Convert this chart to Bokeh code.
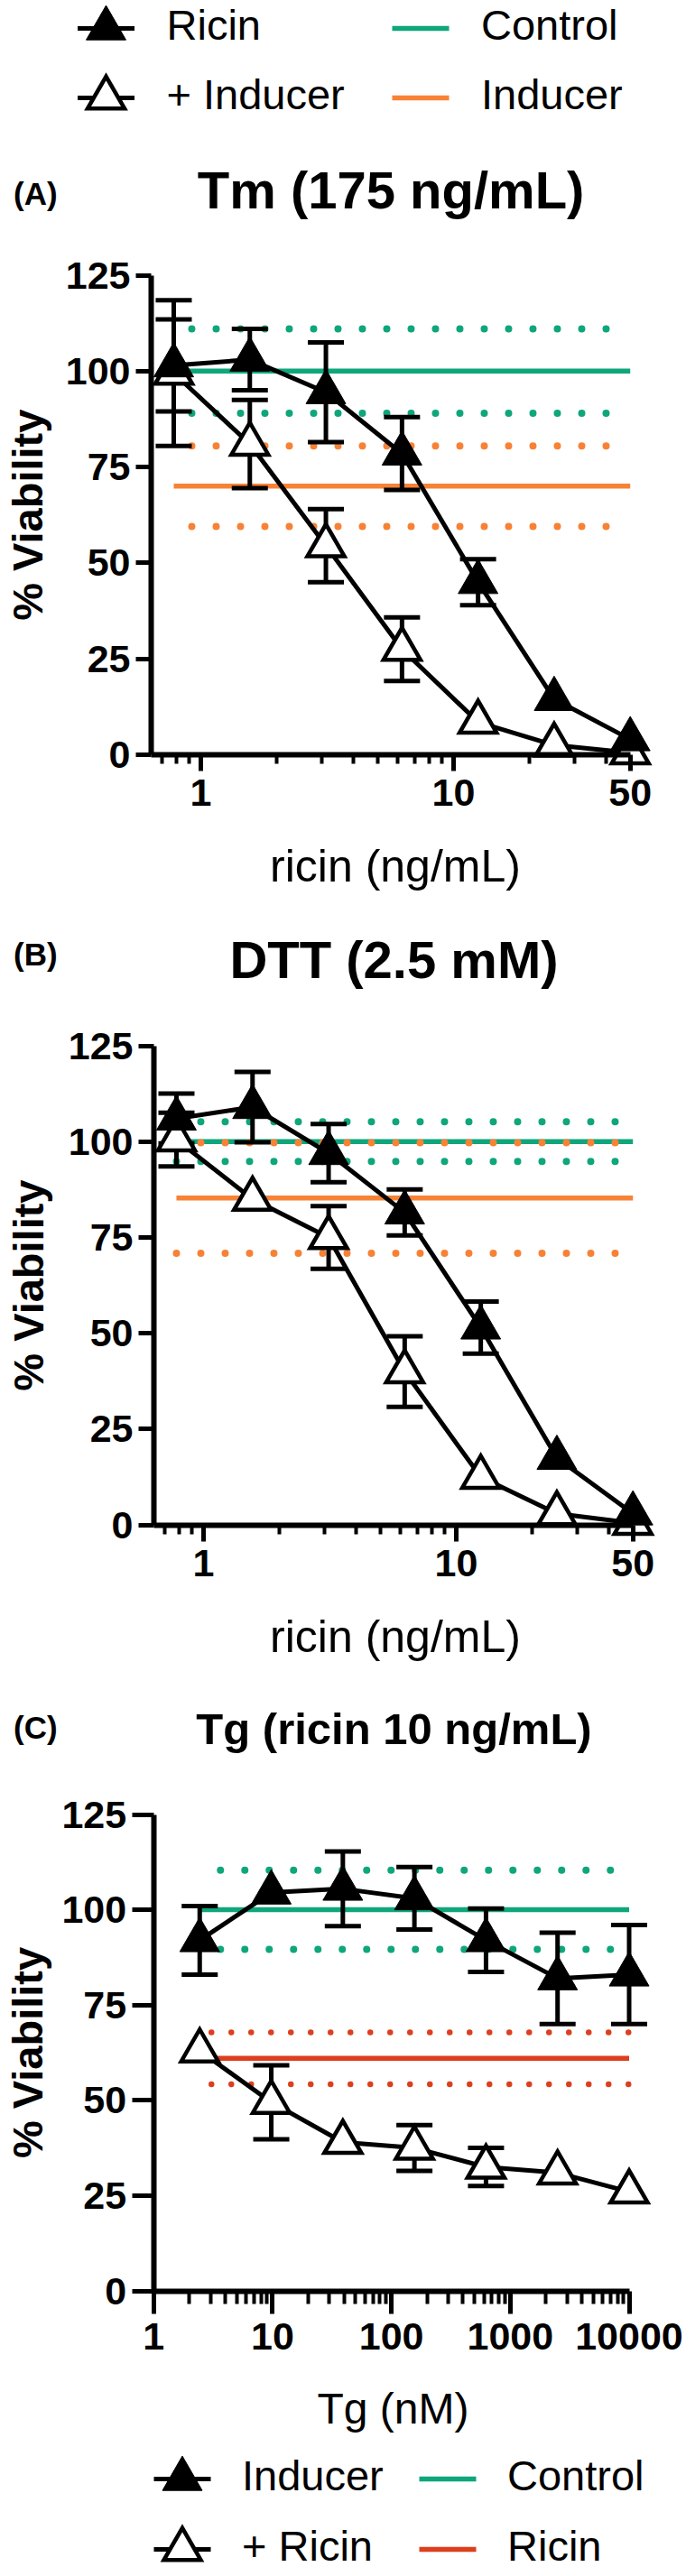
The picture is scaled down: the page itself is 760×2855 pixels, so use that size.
import math
from bokeh.plotting import figure
from bokeh.layouts import column
from bokeh.models import ColumnDataSource, Range1d, FixedTicker, NumeralTickFormatter, Label
from bokeh.embed import file_html
from bokeh.resources import INLINE
from bokeh.core.properties import value

# ---------------- data ----------------
ricin_dose = [0.78125, 1.5625, 3.125, 6.25, 12.5, 25, 50]
tg_dose = [2.44140625, 9.765625, 39.0625, 156.25, 625, 2500, 10000]

# (A) Tm 175 ng/mL
tm_ricin = [101.5, 103, 94.5, 78.5, 45, 14.5, 4]
tm_ricin_sd = [12, 8, 13, 9.5, 6, None, None]
tm_plus = [99.5, 81, 54.5, 27.5, 8.5, 2.5, 0.5]
tm_plus_sd = [19, 11.5, 9.5, 8.3, None, None, None]
tm_control_mean, tm_control_sd = 100, 11
tm_inducer_mean, tm_inducer_sd = 70, 10.5

# (B) DTT 2.5 mM
dtt_ricin = [106, 109, 97, 81.5, 51.5, 17.5, 3]
dtt_ricin_sd = [6.5, 9.2, 7.6, 6, 6.8, None, None]
dtt_plus = [100.5, 85, 75, 40, 12.5, 3, 0.5]
dtt_plus_sd = [7, None, 8.2, 9.2, None, None, None]
dtt_control_mean, dtt_control_sd = 100, 5.2
dtt_inducer_mean, dtt_inducer_sd = 85.3, 14.4

# (C) Tg (ricin 10 ng/mL)
tg_inducer = [92, 104.5, 105.5, 103, 92, 82, 83]
tg_inducer_sd = [9, None, 9.8, 8.2, 8.3, 12, 13]
tg_plus = [63, 49.5, 39, 37.5, 32.5, 31, 26]
tg_plus_sd = [None, 9.7, None, 6, 5, None, None]
tg_control_mean, tg_control_sd = 100, 10.4
tg_ricin_mean, tg_ricin_sd = 61, 6.8

y_ticks = [0, 25, 50, 75, 100, 125]
ricin_major = [1, 10, 50]
ricin_minor = [0.7, 0.8, 0.9, 2, 3, 4, 5, 6, 7, 8, 9, 20, 30, 40]
tg_major = [1, 10, 100, 1000, 10000]
tg_minor = [m * d for d in (1, 10, 100, 1000) for m in range(2, 10)]

legend_top_series = ["Ricin", "+ Inducer"]
legend_top_refs = ["Control", "Inducer"]
legend_bottom_series = ["Inducer", "+ Ricin"]
legend_bottom_refs = ["Control", "Ricin"]

# ---------------- style / layout ----------------
FONT = "Liberation Sans"
GREEN = "#0FA67B"
ORANGE = "#F78236"
RED = "#DD3F1E"
W = 760
MID = 0.3465  # em-box middle above the alphabetic baseline
LEG_SIZE = 47


def log_range(px_one, decade_px):
    return (10 ** (-px_one / decade_px), 10 ** ((W - px_one) / decade_px))


def lin_range(h, px_top, px_zero, top_val=125):
    ppu = (px_zero - px_top) / top_val
    return (-(h - px_zero) / ppu, top_val + px_top / ppu)


def err_source(doses, means, sds):
    xs, lo, hi = [], [], []
    for d, m, s in zip(doses, means, sds):
        if s is not None:
            xs.append(d)
            lo.append(m - s)
            hi.append(m + s)
    return ColumnDataSource(dict(x=xs, lo=lo, hi=hi))


def add_label(p, text, x, base, size, style="bold", align="left", rotated=False):
    # 'base' is the alphabetic baseline position (screen px); anchor at the em-box middle
    if rotated:
        x_, y_ = base - MID * size, x
        angle = math.pi / 2
    else:
        x_, y_ = x, base + MID * size
        angle = 0.0
    p.add_layout(Label(x=x_, y=y_, x_units="screen", y_units="screen", text=text,
                       text_font=FONT, text_font_size=f"{size}px", text_font_style=style,
                       text_align=align, text_baseline="middle", angle=angle,
                       text_color="black"))


def panel(cfg, doses, filled, filled_sd, opened, opened_sd,
          ctrl_mean, ctrl_sd, ref_mean, ref_sd, ref_color):
    h = cfg["h"]
    p = figure(width=W, height=h, x_axis_type="log",
               x_range=Range1d(*log_range(cfg["px_one"], cfg["decade"])),
               y_range=Range1d(*lin_range(h, cfg["px_top"], cfg["px_zero"])),
               output_backend="svg", toolbar_location=None, min_border=0)
    p.outline_line_color = None
    p.background_fill_color = "white"
    p.border_fill_color = "white"
    p.xgrid.visible = False
    p.ygrid.visible = False

    xa = p.xaxis[0]
    ya = p.yaxis[0]
    xa.fixed_location = 0
    xa.bounds = (cfg["xmin"], cfg["xmax"])
    xa.ticker = FixedTicker(ticks=cfg["major"], minor_ticks=cfg["minor"])
    ya.fixed_location = cfg["xmin"]
    ya.bounds = (0, 125)
    ya.ticker = FixedTicker(ticks=y_ticks)
    for ax in (xa, ya):
        ax.axis_line_width = 6
        ax.axis_line_color = "black"
        ax.major_tick_line_width = 5
        ax.minor_tick_line_width = 4
        ax.major_tick_in = 0
        ax.minor_tick_in = 0
        ax.major_label_text_font = FONT
        ax.major_label_text_font_style = "bold"
        ax.major_label_text_font_size = "43px"
        ax.major_label_text_color = "black"
        ax.formatter = NumeralTickFormatter(format="0")
    xa.major_tick_out = cfg["xt_major"]
    xa.minor_tick_out = cfg["xt_minor"]
    xa.major_label_standoff = cfg["x_standoff"]
    ya.major_tick_out = cfg["yt"]
    ya.minor_tick_out = 0
    ya.major_label_standoff = 6

    span = [doses[0], doses[-1]]
    for mean, sd, col, dash, dw, off in (
            (ctrl_mean, ctrl_sd, GREEN, "0 27", 8, cfg["off_ctrl"]),
            (ref_mean, ref_sd, ref_color, cfg["ref_dash"], cfg["ref_dot"], cfg["off_ref"])):
        p.line(span, [mean, mean], line_color=col, line_width=5.5)
        for yv in (mean + sd, mean - sd):
            p.line(span, [yv, yv], line_color=col, line_width=dw, line_dash=dash,
                   line_cap="round", line_dash_offset=off)

    src_f = ColumnDataSource(dict(x=doses, y=filled))
    src_o = ColumnDataSource(dict(x=doses, y=opened))
    p.line("x", "y", source=src_o, line_color="black", line_width=5, line_join="round")
    p.line("x", "y", source=src_f, line_color="black", line_width=5, line_join="round")

    for src in (err_source(doses, opened, opened_sd), err_source(doses, filled, filled_sd)):
        p.segment(x0="x", y0="lo", x1="x", y1="hi", source=src, line_color="black", line_width=5)
        for key in ("hi", "lo"):
            p.scatter(x="x", y=key, source=src, marker="dash", size=40,
                      line_color="black", line_width=5)

    p.scatter("x", "y", source=src_o, marker="triangle", size=41, fill_color="white",
              line_color="black", line_width=4.5, line_join="miter")
    p.scatter("x", "y", source=src_f, marker="triangle", size=44, fill_color="black",
              line_color="black", line_width=1)

    L = cfg["labels"]
    add_label(p, cfg["title"], L["title"][0], L["title"][1], cfg["title_size"], align="center")
    add_label(p, cfg["letter"], L["letter"][0], L["letter"][1], 35)
    add_label(p, "% Viability", L["ylab"][1], L["ylab"][0], 47, align="center", rotated=True)
    add_label(p, cfg["xlabel"], L["xlab"][0], L["xlab"][1], cfg["xlabel_size"], style="normal",
              align="center")
    return p


def legend_fig(h, xr, yr, series, refs, ref_colors, base_dy, txt_dx):
    # base_dy: alphabetic baseline below the row centre (px); text anchored at em-box middle
    f = figure(width=W, height=h, x_range=Range1d(*xr), y_range=Range1d(*yr),
               x_axis_location=None, y_axis_location=None, output_backend="svg",
               toolbar_location=None, min_border=0)
    f.outline_line_color = None
    f.grid.visible = False
    rows = list(range(len(series)))
    s_src = ColumnDataSource(dict(x=[0] * len(series), y=rows, label=series,
                                  fill=["black", "white"], lw=[1, 4.5], size=[44, 41]))
    r_src = ColumnDataSource(dict(x=[1] * len(refs), y=rows, label=refs, color=ref_colors))
    f.scatter("x", "y", source=s_src, marker="dash", size=63, line_color="black", line_width=5)
    f.scatter("x", "y", source=s_src, marker="triangle", size="size", fill_color="fill",
              line_color="black", line_width="lw", line_join="miter")
    f.scatter("x", "y", source=r_src, marker="dash", size=63, line_color="color", line_width=5.5)
    for src in (s_src, r_src):
        f.text("x", "y", text="label", source=src, x_offset=txt_dx,
               y_offset=base_dy - MID * LEG_SIZE,
               text_font=value(FONT), text_font_size=f"{LEG_SIZE}px", text_color="black",
               text_baseline="middle", text_align="left")
    return f


# labels: title/letter/xlab = (x, baseline-from-bottom); ylab = (baseline x, centre y)
cfg_a = dict(h=855, px_top=154.6, px_zero=685.9, px_one=222, decade=280,
             xmin=10 ** (-55 / 280), xmax=50, major=ricin_major, minor=ricin_minor,
             xt_major=18, xt_minor=10, x_standoff=10, yt=17,
             ref_dash="0 27", ref_dot=8, off_ctrl=7, off_ref=7,
             title="Tm (175 ng/mL)", title_size=58, letter="(A)",
             xlabel="ricin (ng/mL)", xlabel_size=50,
             labels=dict(title=(432.6, 775), letter=(14.6, 778.5), ylab=(46, 434.75),
                         xlab=(437.5, 28)))
cfg_b = dict(h=853, px_top=153.5, px_zero=684.7, px_one=225, decade=280,
             xmin=10 ** (-55 / 280), xmax=50, major=ricin_major, minor=ricin_minor,
             xt_major=18, xt_minor=10, x_standoff=10, yt=17,
             ref_dash="0 27", ref_dot=8, off_ctrl=0, off_ref=0,
             title="DTT (2.5 mM)", title_size=58, letter="(B)",
             xlabel="ricin (ng/mL)", xlabel_size=50,
             labels=dict(title=(436, 775.4), letter=(14.6, 789), ylab=(47, 433.9),
                         xlab=(437.5, 27)))
cfg_c = dict(h=847, px_top=152.5, px_zero=680.5, px_one=169.7, decade=131.7,
             xmin=1, xmax=10000, major=tg_major, minor=tg_minor,
             xt_major=25, xt_minor=14, x_standoff=11, yt=24,
             ref_dash="0 22", ref_dot=6.5, off_ctrl=4, off_ref=9,
             title="Tg (ricin 10 ng/mL)", title_size=49, letter="(C)",
             xlabel="Tg (nM)", xlabel_size=48,
             labels=dict(title=(436, 772.6), letter=(14.6, 779), ylab=(46, 430.5),
                         xlab=(435, 19)))

pa = panel(cfg_a, ricin_dose, tm_ricin, tm_ricin_sd, tm_plus, tm_plus_sd,
           tm_control_mean, tm_control_sd, tm_inducer_mean, tm_inducer_sd, ORANGE)
pb = panel(cfg_b, ricin_dose, dtt_ricin, dtt_ricin_sd, dtt_plus, dtt_plus_sd,
           dtt_control_mean, dtt_control_sd, dtt_inducer_mean, dtt_inducer_sd, ORANGE)
pc = panel(cfg_c, tg_dose, tg_inducer, tg_inducer_sd, tg_plus, tg_plus_sd,
           tg_control_mean, tg_control_sd, tg_ricin_mean, tg_ricin_sd, RED)

leg_top = legend_fig(150, (-117 / 348.5, (W - 117) / 348.5), ((150 - 31) / 77, -31 / 77),
                     legend_top_series, legend_top_refs, [GREEN, ORANGE], 12.5, 67)
leg_bot = legend_fig(149, (-201.5 / 294, (W - 201.5) / 294), ((149 - 42) / 78, -42 / 78),
                     legend_bottom_series, legend_bottom_refs, [GREEN, RED], 12, 66)

layout = column(leg_top, pa, pb, pc, leg_bot, spacing=0)
open("out.html", "w").write(file_html(layout, INLINE))
